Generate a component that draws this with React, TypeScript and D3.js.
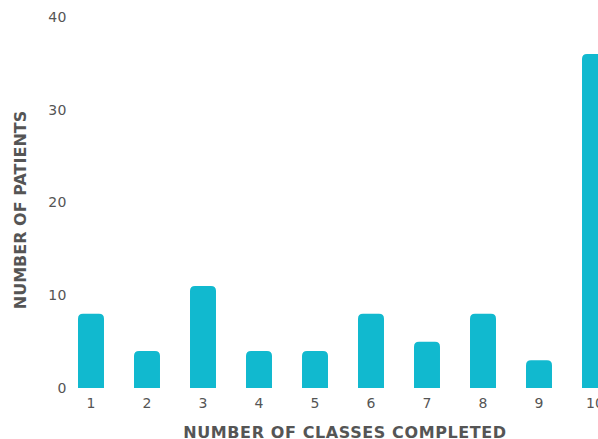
import React, { useEffect } from "react";
import * as d3 from "d3";

const categories = ["1", "2", "3", "4", "5", "6", "7", "8", "9", "10"];
const patients = [8, 4, 11, 4, 4, 8, 5, 8, 3, 36];
const yTicks = [0, 10, 20, 30, 40];
const xTitle = "NUMBER OF CLASSES COMPLETED";
const yTitle = "NUMBER OF PATIENTS";

const W = 598;
const H = 439;
const FONT = "'DejaVu Sans', 'Open Sans', sans-serif";

export default function App() {
  useEffect(() => {
    document.body.style.margin = "0";
  }, []);

  const x = d3.scaleBand<string>().domain(categories).range([63, 623]).paddingInner(0.536).paddingOuter(0.268);
  const y = d3.scaleLinear().domain([0, 40]).range([388, 17]);
  const bw = x.bandwidth();
  const r = 5;

  const barPath = (c: string, v: number) => {
    const x0 = x(c)!;
    const x1 = x0 + bw;
    const y0 = y(0);
    const y1 = y(v);
    return `M${x0},${y0}V${y1 + r}Q${x0},${y1} ${x0 + r},${y1}H${x1 - r}Q${x1},${y1} ${x1},${y1 + r}V${y0}Z`;
  };

  return (
    <svg width={W} height={H} style={{ display: "block", background: "#fff" }}>
      {yTicks.map((t) => (
        <text key={t} x={67} y={y(t)} dy="0.35em" textAnchor="end" fontSize={14} fill="#555" fontFamily={FONT} letterSpacing={0.5}>
          {t}
        </text>
      ))}
      {categories.map((c, i) => (
        <path key={c} d={barPath(c, patients[i])} fill="#11b9cf" />
      ))}
      {categories.map((c) => (
        <text key={c} x={x(c)! + bw / 2} y={403} dy="0.35em" textAnchor="middle" fontSize={14} fill="#555" fontFamily={FONT}>
          {c}
        </text>
      ))}
      <text x={345} y={432} dy="0.35em" textAnchor="middle" fontSize={16} fontWeight="bold" fill="#555" fontFamily={FONT} letterSpacing={0.6}>
        {xTitle}
      </text>
      <text transform={`translate(20,210) rotate(-90)`} dy="0.35em" textAnchor="middle" fontSize={16} fontWeight="bold" fill="#555" fontFamily={FONT}>
        {yTitle}
      </text>
    </svg>
  );
}
